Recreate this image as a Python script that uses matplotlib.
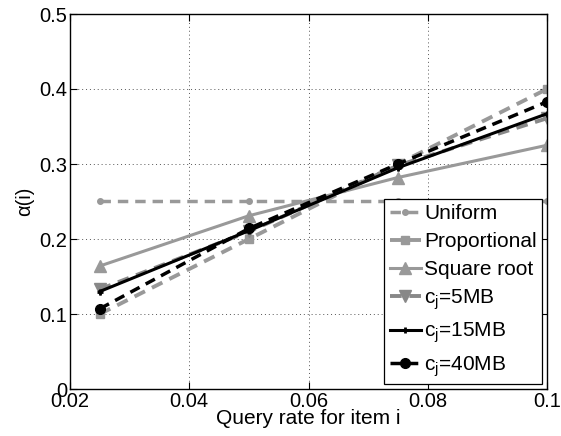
import matplotlib
matplotlib.use("Agg")
import matplotlib.pyplot as plt

plt.rcParams['font.family'] = ['Liberation Sans', 'DejaVu Sans']
plt.rcParams['mathtext.fontset'] = 'custom'
plt.rcParams['mathtext.rm'] = 'Liberation Sans'
plt.rcParams['mathtext.it'] = 'Liberation Sans'

x = [0.025, 0.05, 0.075, 0.1]
uniform = [0.25, 0.25, 0.25, 0.25]
proportional = [0.1, 0.2, 0.3, 0.4]
square_root = [0.164, 0.231, 0.282, 0.325]
c5 = [0.133, 0.210, 0.298, 0.361]
c15 = [0.130, 0.211, 0.295, 0.367]
c40 = [0.107, 0.214, 0.300, 0.383]

xticks = [0.02, 0.04, 0.06, 0.08, 0.1]
xticklabels = ['0.02', '0.04', '0.06', '0.08', '0.1']
yticks = [0, 0.1, 0.2, 0.3, 0.4, 0.5]
yticklabels = ['0', '0.1', '0.2', '0.3', '0.4', '0.5']

gray = '#999999'
dash = (3, 2)
fig = plt.figure(figsize=(5.61, 4.36), dpi=100)
ax = fig.add_axes([70/561, 1-389/436, 477/561, 375/436])

ax.plot(x, uniform, '--', dashes=dash, color=gray, lw=2.5, marker='o', ms=4, label='Uniform')
ax.plot(x, proportional, '--', dashes=dash, color=gray, lw=2.8, marker='s', ms=6, label='Proportional')
ax.plot(x, square_root, '-', color=gray, lw=2.2, marker='^', ms=9, label='Square root')
ax.plot(x, c5, '--', dashes=dash, color='#888888', lw=2.8, marker='v', ms=9, label=r'c$_\mathrm{j}$=5MB')
ax.plot(x, c15, '-', color='black', lw=2.2, marker='+', ms=5, mew=2, label=r'c$_\mathrm{j}$=15MB')
ax.plot(x, c40, '--', dashes=dash, color='black', lw=2.5, marker='o', ms=7, label=r'c$_\mathrm{j}$=40MB')

ax.set_xlim(0.02, 0.1)
ax.set_ylim(0, 0.5)
ax.set_xticks(xticks)
ax.set_xticklabels(xticklabels)
ax.set_yticks(yticks)
ax.set_yticklabels(yticklabels)
ax.tick_params(direction='in', top=True, right=True, labelsize=14.5, length=5, pad=2)
ax.grid(True, linestyle=(0, (1, 3)), color='#555555', lw=0.7)
for s in ax.spines.values():
    s.set_linewidth(1.0)
ax.set_xlabel('Query rate for item i', fontsize=15, labelpad=-1)
ax.set_ylabel('α(i)', fontsize=14.5, labelpad=4)

leg = ax.legend(loc='lower right', fontsize=15, frameon=True, fancybox=False,
                edgecolor='black', framealpha=1, handlelength=1.5, handletextpad=0.15,
                borderpad=0.25, labelspacing=0.42, borderaxespad=0.25)
leg.get_frame().set_linewidth(0.9)

fig.savefig('out.png', dpi=100)
